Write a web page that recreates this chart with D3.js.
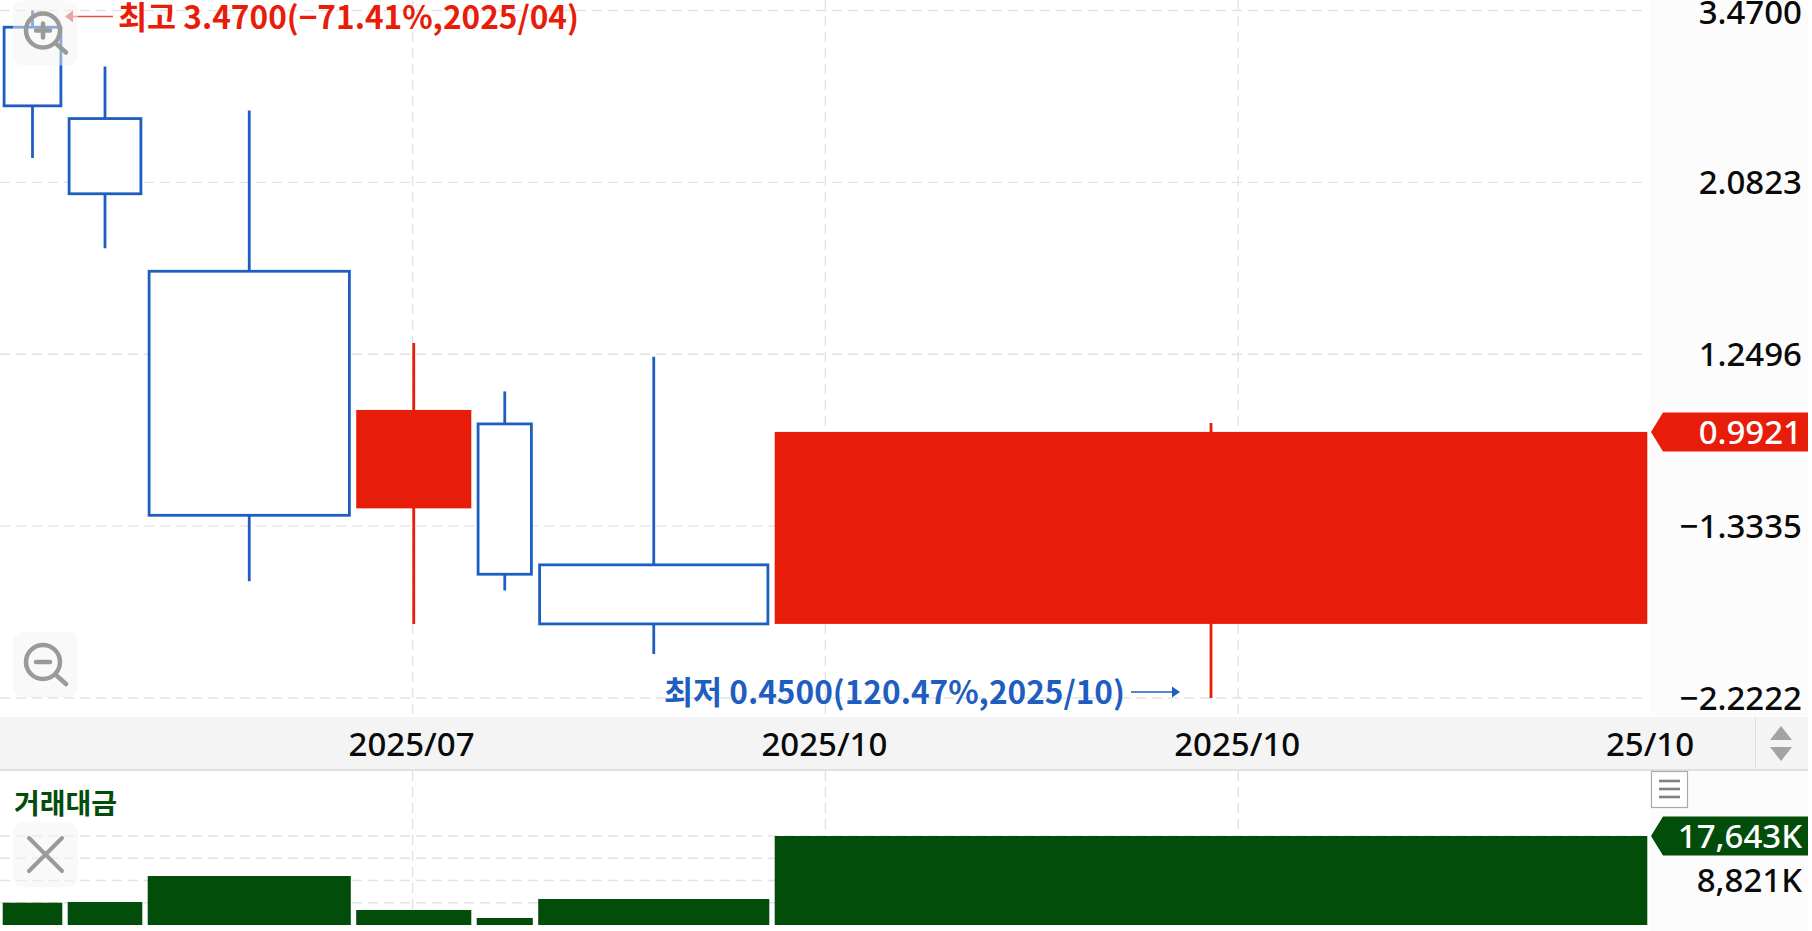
<!DOCTYPE html>
<html><head><meta charset="utf-8">
<script src="https://cdn.jsdelivr.net/npm/d3@7/dist/d3.min.js"></script>
<style>html,body{margin:0;padding:0;background:#fff;overflow:hidden}svg{display:block}text{font-family:"Noto Sans","Noto Sans CJK KR",sans-serif}</style>
</head><body><svg id="c" width="1812" height="931"></svg>
<script>
// data
const periods = ["2025/04","2025/05","2025/06","2025/07","2025/08","2025/09","2025/10"];
const opens  = [3.302,2.517,1.599,0.7905,1.016,0.6684,0.5608];
const closes = [2.614,2.013,0.7744,1.059,0.650,0.5608,0.9921];
const highs  = [3.470,2.938,2.578,1.292,1.119,1.240,1.019];
const lows   = [2.239,1.712,0.6366,0.5608,0.6194,0.5129,0.450];
const turnover = [4420,4560,9710,2970,1390,5150,17643];
const widthWeights = [65,80,208.5,120.5,61.5,236.5,878];
const priceTicks = [3.47,2.0823,1.2496,0.7499,0.45];
const priceTickLabels = ["3.4700","2.0823","1.2496","−1.3335","−2.2222"];
const timeTickLabels = ["2025/07","2025/10","2025/10","25/10"];
const turnoverGrid = [17643,13232,8821,4411,0];
const turnoverLabels = ["17,643K","8,821K"];
const lastPriceLabel = "0.9921";
const highNote = "최고 3.4700(−71.41%,2025/04)";
const lowNote = "최저 0.4500(120.47%,2025/10)";
const paneTitle = "거래대금";

const RED="#e71d0a",BLUE="#1f5ec1",GREEN="#034d0a",GRID="#e3e3e3",FONT=33;
const CJK='"Noto Sans CJK KR","Noto Sans",sans-serif';
const svg=d3.select("#c");
const plotR=1650,panelR=1808;
const y=d3.scaleLog().domain([0.45,3.47]).range([698,10.5]);
const yV=d3.scaleLinear().domain([0,17643]).range([925,836]);
const cum=[0,...d3.cumsum(widthWeights)];
const x=d3.scaleLinear().domain([0,d3.sum(widthWeights)]).range([0,plotR]);
const tx=d3.scalePoint().domain(d3.range(timeTickLabels.length)).range([412.6,1651]);
const inset=2.7,SW=2.8;

// panel backgrounds
svg.append("rect").attr("x",plotR).attr("y",0).attr("width",panelR-plotR).attr("height",931).attr("fill","#fcfcfc");

// grid
const hgrid=(vals,sc)=>svg.append("g").selectAll("line").data(vals).join("line")
  .attr("x1",0).attr("x2",plotR-4).attr("y1",d=>sc(d)).attr("y2",d=>sc(d))
  .attr("stroke",GRID).attr("stroke-width",1.4).attr("stroke-dasharray","10 6");
hgrid(priceTicks,y); hgrid(turnoverGrid.slice(0,4),yV);
const vg=svg.append("g");
[[0,717],[771,925]].forEach(([a,b])=>{
  vg.append("g").selectAll("line").data(timeTickLabels.slice(0,3).map((d,i)=>i)).join("line")
   .attr("x1",d=>tx(d)).attr("x2",d=>tx(d)).attr("y1",a).attr("y2",b)
   .attr("stroke",GRID).attr("stroke-width",1.4).attr("stroke-dasharray","10 6");
});

// candles
const idx=d3.range(periods.length);
const mid=i=>x((cum[i]+cum[i+1])/2);
const col=i=>closes[i]>=opens[i]?RED:BLUE;
const cg=svg.append("g");
cg.selectAll("line.w").data(idx).join("line").attr("class","w")
  .attr("x1",mid).attr("x2",mid).attr("y1",i=>y(highs[i])).attr("y2",i=>y(lows[i]))
  .attr("stroke",col).attr("stroke-width",SW);
cg.selectAll("rect.b").data(idx).join("rect").attr("class","b")
  .attr("x",i=>x(cum[i])+inset+(col(i)==BLUE?SW/2:0))
  .attr("width",i=>x(cum[i+1])-x(cum[i])-2*inset-(col(i)==BLUE?SW:0))
  .attr("y",i=>y(Math.max(opens[i],closes[i])))
  .attr("height",i=>y(Math.min(opens[i],closes[i]))-y(Math.max(opens[i],closes[i])))
  .attr("fill",i=>col(i)==RED?RED:"#fff").attr("stroke",i=>col(i)==RED?"none":BLUE).attr("stroke-width",SW);

// turnover bars
svg.append("g").selectAll("rect").data(idx).join("rect")
  .attr("x",i=>x(cum[i])+inset).attr("width",i=>x(cum[i+1])-x(cum[i])-2*inset)
  .attr("y",i=>yV(turnover[i])).attr("height",i=>yV(0)-yV(turnover[i])).attr("fill",GREEN);

// time axis band
svg.append("rect").attr("x",0).attr("y",717).attr("width",panelR).attr("height",52).attr("fill","#f4f4f4");
svg.append("rect").attr("x",0).attr("y",769).attr("width",panelR).attr("height",2).attr("fill","#e0e0e0");
svg.append("rect").attr("x",1755).attr("y",717).attr("width",1).attr("height",52).attr("fill","#dcdcdc");
svg.append("path").attr("d","M1770 740L1781 726L1792 740Z").attr("fill","#a3a3a3");
svg.append("path").attr("d","M1770 747L1781 761L1792 747Z").attr("fill","#a3a3a3");
svg.append("g").selectAll("text").data(timeTickLabels).join("text")
  .attr("x",(d,i)=>tx(i)-1).attr("y",744.5).attr("dy","0.36em").attr("text-anchor","middle")
  .attr("font-size",FONT).attr("font-weight",500).attr("fill","#0a0a0a").text(d=>d);

// price axis (first label kept inside the page)
svg.append("g").selectAll("text").data(priceTickLabels).join("text")
  .attr("x",1802).attr("y",(d,i)=>Math.max(y(priceTicks[i]),11.8)).attr("dy","0.36em").attr("text-anchor","end")
  .attr("font-size",FONT).attr("font-weight",500).attr("fill","#0a0a0a").text(d=>d);

// value flags
const flag=(cy,c,t)=>{
  svg.append("path").attr("d",`M1651 ${cy}L1663 ${cy-19.5}L${panelR} ${cy-19.5}L${panelR} ${cy+19.5}L1663 ${cy+19.5}Z`).attr("fill",c);
  svg.append("text").attr("x",1802).attr("y",cy).attr("dy","0.36em").attr("text-anchor","end")
   .attr("font-size",FONT).attr("font-weight",500).attr("fill","#fff").text(t);
};
flag(y(closes[6]),RED,lastPriceLabel);
flag(yV(17643),GREEN,turnoverLabels[0]);
svg.append("text").attr("x",1802).attr("y",yV(8821)).attr("dy","0.36em").attr("text-anchor","end")
  .attr("font-size",FONT).attr("font-weight",500).attr("fill","#0a0a0a").text(turnoverLabels[1]);

// menu button
svg.append("rect").attr("x",1651.5).attr("y",771.5).attr("width",36).attr("height",36).attr("fill","#fff").attr("stroke","#aaa").attr("stroke-width",1.2);
svg.append("g").selectAll("line").data([781,789,797]).join("line").attr("x1",1659).attr("x2",1680).attr("y1",d=>d).attr("y2",d=>d).attr("stroke","#808080").attr("stroke-width",2.6);

// notes
svg.append("text").attr("x",118).attr("y",18).attr("dy","0.36em").attr("font-size",31.6).attr("font-weight",700).attr("fill",RED).style("font-family",CJK).text(highNote);
svg.append("line").attr("x1",72).attr("x2",113).attr("y1",16.5).attr("y2",16.5).attr("stroke","#e0564a").attr("stroke-width",1.6);
svg.append("path").attr("d","M65 16.5L73 10.5L73 22.5Z").attr("fill","#e0564a");
svg.append("text").attr("x",664).attr("y",692.5).attr("dy","0.36em").attr("font-size",31.6).attr("font-weight",700).attr("fill",BLUE).style("font-family",CJK).text(lowNote);
svg.append("line").attr("x1",1131).attr("x2",1173).attr("y1",692).attr("y2",692).attr("stroke",BLUE).attr("stroke-width",1.6);
svg.append("path").attr("d","M1180 692L1172 686.5L1172 697.5Z").attr("fill",BLUE);

// pane title
svg.append("text").attr("x",14).attr("y",804).attr("dy","0.36em").attr("font-size",28).attr("font-weight",700).attr("fill",GREEN).text(paneTitle);

// zoom buttons
const btn=(top,kind)=>{
  const g=svg.append("g").attr("transform",`translate(13,${top})`);
  g.append("rect").attr("width",65).attr("height",65).attr("rx",10).attr("fill","#f4f4f4").attr("fill-opacity",0.5);
  const s="#9a9a9a";
  if(kind=="x"){
    g.append("path").attr("d","M16 16L49 49M49 16L16 49").attr("stroke",s).attr("stroke-width",4).attr("stroke-linecap","round");
    return;
  }
  g.append("circle").attr("cx",30).attr("cy",30).attr("r",17).attr("fill","none").attr("stroke",s).attr("stroke-width",4.5);
  g.append("line").attr("x1",44).attr("y1",44).attr("x2",53).attr("y2",52).attr("stroke",s).attr("stroke-width",4.5).attr("stroke-linecap","round");
  g.append("path").attr("d",kind=="+"?"M23 30H37M30 23V37":"M23 30H37").attr("stroke",s).attr("stroke-width",4.5).attr("stroke-linecap","round");
};
btn(0.5,"+"); btn(632,"-"); btn(822,"x");
</script></body></html>
